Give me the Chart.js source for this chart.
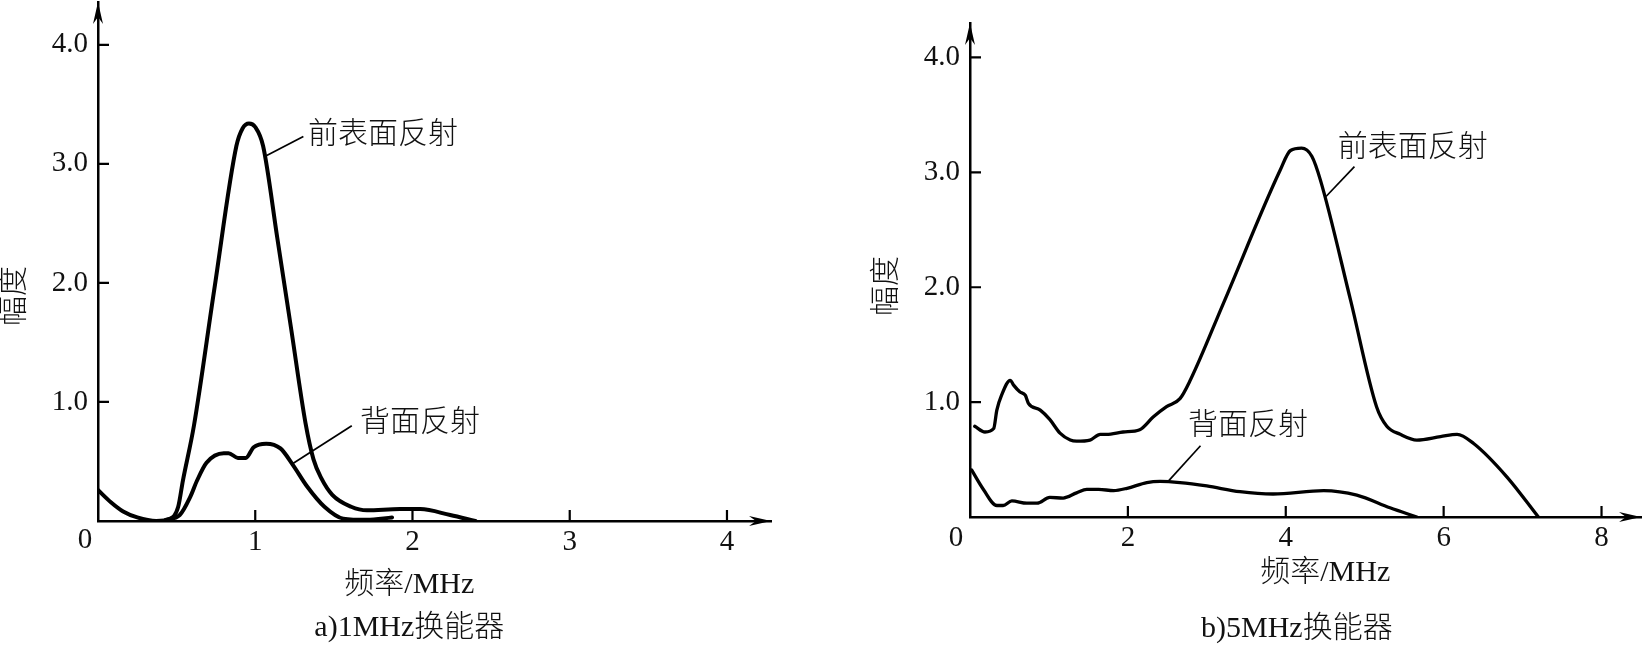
<!DOCTYPE html>
<html>
<head>
<meta charset="utf-8">
<script src="https://cdn.jsdelivr.net/npm/chart.js@4.4.1/dist/chart.umd.min.js"></script>
<style>
  html, body { margin: 0; padding: 0; background: #fff; }
  #wrap { position: relative; width: 1646px; height: 646px; overflow: hidden; }
  #wrap canvas { position: absolute; top: 0; }
  #chartA { left: 0; }
  #chartB { left: 823px; }
</style>
</head>
<body>
<div id="wrap">
  <canvas id="chartA" width="823" height="646"></canvas>
  <canvas id="chartB" width="823" height="646"></canvas>
</div>
<script>
/* =========================================================
   DATA
========================================================= */
const yTicks = [1, 2, 3, 4];
const xTicksA = [0, 1, 2, 3, 4];
const xTicksB = [0, 2, 4, 6, 8];
const seriesNames = ["前表面反射", "背面反射"];
const captions = ["a)1MHz换能器", "b)5MHz换能器"];
const xTitle = "频率/MHz";
const yTitle = "幅度";

// a) 1MHz transducer
const freqA_front = [0, 0.08, 0.16, 0.25, 0.37, 0.46, 0.51, 0.54, 0.61, 0.74, 0.88, 0.92, 0.96, 1.00, 1.05, 1.14, 1.23, 1.32, 1.37, 1.42, 1.49, 1.61, 1.71, 1.92, 2.05, 2.24, 2.40];
const ampA_front  = [0.26, 0.16, 0.08, 0.03, 0.00, 0.02, 0.12, 0.34, 0.80, 1.95, 3.15, 3.30, 3.34, 3.31, 3.15, 2.38, 1.60, 0.82, 0.52, 0.36, 0.22, 0.12, 0.09, 0.10, 0.10, 0.05, 0.00];
const freqA_back  = [0.43, 0.52, 0.586, 0.63, 0.69, 0.80, 0.83, 0.89, 0.94, 0.99, 1.07, 1.16, 1.24, 1.33, 1.44, 1.56, 1.71, 1.87];
const ampA_back   = [0.01, 0.05, 0.20, 0.34, 0.49, 0.57, 0.57, 0.53, 0.53, 0.62, 0.65, 0.61, 0.47, 0.29, 0.12, 0.02, 0.01, 0.03];

// b) 5MHz transducer
const freqB_front = [0.06, 0.19, 0.30, 0.34, 0.40, 0.51, 0.55, 0.63, 0.70, 0.74, 0.89, 1.01, 1.14, 1.27, 1.35, 1.52, 1.65, 1.73, 1.94, 2.15, 2.32, 2.49, 2.66, 2.79, 3.21, 3.93, 4.06, 4.20, 4.33, 4.44, 4.82, 5.15, 5.28, 5.45, 5.66, 5.96, 6.17, 6.38, 6.80, 7.20];
const ampB_front  = [0.79, 0.74, 0.77, 0.93, 1.06, 1.19, 1.15, 1.09, 1.06, 0.99, 0.93, 0.85, 0.73, 0.67, 0.66, 0.67, 0.72, 0.72, 0.74, 0.76, 0.87, 0.96, 1.03, 1.19, 1.86, 3.02, 3.19, 3.21, 3.14, 2.93, 1.89, 0.96, 0.79, 0.72, 0.67, 0.70, 0.72, 0.64, 0.35, 0.00];
const freqB_back  = [0.02, 0.17, 0.34, 0.42, 0.53, 0.72, 0.85, 1.01, 1.18, 1.35, 1.48, 1.63, 1.82, 1.99, 2.24, 2.41, 2.66, 3.00, 3.42, 3.84, 4.48, 4.90, 5.32, 5.66];
const ampB_back   = [0.41, 0.24, 0.10, 0.10, 0.14, 0.12, 0.12, 0.17, 0.165, 0.21, 0.24, 0.24, 0.23, 0.25, 0.30, 0.31, 0.30, 0.27, 0.22, 0.20, 0.23, 0.19, 0.08, 0.00];

/* =========================================================
   DEFAULTS
========================================================= */
const FONT = "'Liberation Serif', 'Noto Sans CJK SC', serif";
Chart.defaults.font.family = FONT;
Chart.defaults.color = "#111";

/* =========================================================
   DRAWING HELPERS
========================================================= */
function arrow(ctx, tx, ty, dx, dy) {
  const len = 22, half = 5, notch = 15;
  const nx = -dy, ny = dx;
  ctx.beginPath();
  ctx.moveTo(tx, ty);
  ctx.lineTo(tx - dx * len + nx * half, ty - dy * len + ny * half);
  ctx.lineTo(tx - dx * notch, ty - dy * notch);
  ctx.lineTo(tx - dx * len - nx * half, ty - dy * len - ny * half);
  ctx.closePath();
  ctx.fill();
}

const decor = {
  id: "decor",
  beforeDatasetsDraw(chart, args, o) {
    const { ctx, chartArea: a, scales: { x, y } } = chart;
    ctx.save();
    ctx.strokeStyle = "#000";
    ctx.lineWidth = 2.2;
    ctx.beginPath();
    y.ticks.forEach(t => {
      const p = y.getPixelForValue(t.value);
      ctx.moveTo(a.left, p);
      ctx.lineTo(a.left + 11, p);
    });
    x.ticks.forEach(t => {
      const p = x.getPixelForValue(t.value);
      ctx.moveTo(p, a.bottom);
      ctx.lineTo(p, a.bottom - 11);
    });
    ctx.stroke();
    ctx.fillStyle = "#000";
    arrow(ctx, a.right, a.bottom, 1, 0);
    arrow(ctx, a.left, a.top, 0, -1);
    ctx.restore();
  },
  afterDraw(chart, args, o) {
    const { ctx, chartArea: a, scales: { x, y } } = chart;
    ctx.save();
    ctx.fillStyle = "#111";
    ctx.strokeStyle = "#000";
    ctx.textAlign = "center";
    ctx.textBaseline = "middle";

    // origin label
    ctx.font = `29px ${FONT}`;
    ctx.fillText("0", a.left + o.zeroDx, a.bottom + o.zeroDy);

    // axis titles + caption
    ctx.font = `300 30px ${FONT}`;
    ctx.fillText(xTitle, x.getPixelForValue(o.xTitleAt), a.bottom + o.xTitleDy);
    ctx.fillText(o.caption, x.getPixelForValue(o.captionAt), a.bottom + o.captionDy);

    ctx.save();
    ctx.translate(a.left + o.yTitleDx, y.getPixelForValue(o.yTitleAt));
    ctx.rotate(-Math.PI / 2);
    ctx.fillText(yTitle, 0, 0);
    ctx.restore();

    // curve labels with leader lines
    ctx.lineWidth = 1.7;
    ctx.textAlign = "left";
    o.notes.forEach(n => {
      ctx.beginPath();
      ctx.moveTo(x.getPixelForValue(n.from[0]), y.getPixelForValue(n.from[1]));
      ctx.lineTo(x.getPixelForValue(n.to[0]), y.getPixelForValue(n.to[1]));
      ctx.stroke();
      ctx.fillText(n.text, x.getPixelForValue(n.at[0]), y.getPixelForValue(n.at[1]));
    });
    ctx.restore();
  }
};

/* =========================================================
   CHART BUILDER
========================================================= */
function pts(xs, ys) {
  return xs.map((v, i) => ({ x: v, y: ys[i] }));
}

function buildChart(id, cfg) {
  return new Chart(document.getElementById(id), {
    type: "line",
    data: {
      datasets: [
        { label: seriesNames[0], data: pts(cfg.frontX, cfg.frontY) },
        { label: seriesNames[1], data: pts(cfg.backX, cfg.backY) }
      ]
    },
    plugins: [decor],
    options: {
      responsive: false,
      animation: false,
      events: [],
      layout: { padding: cfg.padding },
      elements: {
        point: { radius: 0 },
        line: {
          borderColor: "#000",
          borderWidth: cfg.lineWidth,
          cubicInterpolationMode: "monotone",
          fill: false,
          borderCapStyle: "round",
          borderJoinStyle: "round"
        }
      },
      plugins: {
        legend: { display: false },
        tooltip: { enabled: false },
        decor: cfg.decor
      },
      scales: {
        x: {
          type: "linear",
          min: 0,
          max: cfg.xMax,
          grid: { display: false, drawTicks: false },
          border: { display: true, color: "#000", width: 2.5 },
          ticks: { padding: 4, autoSkip: false, maxRotation: 0, font: { size: 29 }, callback: v => String(v) },
          afterBuildTicks: s => { s.ticks = cfg.xTicks.filter(v => v !== 0).map(v => ({ value: v })); },
          afterFit: s => { s.height = cfg.xHeight; s.paddingLeft = 0; s.paddingRight = 0; }
        },
        y: {
          type: "linear",
          min: 0,
          max: cfg.yMax,
          grid: { display: false, drawTicks: false },
          border: { display: true, color: "#000", width: 2.5 },
          ticks: { padding: 10, autoSkip: false, font: { size: 29 }, callback: v => Number(v).toFixed(1) },
          afterBuildTicks: s => { s.ticks = yTicks.map(v => ({ value: v })); },
          afterFit: s => { s.width = cfg.yWidth; s.paddingTop = 0; s.paddingBottom = 0; }
        }
      }
    }
  });
}

/* =========================================================
   RENDER
========================================================= */
buildChart("chartA", {
  frontX: freqA_front, frontY: ampA_front,
  backX: freqA_back, backY: ampA_back,
  xTicks: xTicksA, xMax: 4.28, yMax: 4.36,
  yWidth: 98, xHeight: 125,
  padding: { top: 2, right: 52, left: 0, bottom: 0 },
  lineWidth: 4,
  decor: {
    zeroDx: -13, zeroDy: 19,
    xTitleAt: 1.98, xTitleDy: 64,
    captionAt: 1.98, captionDy: 107,
    yTitleDx: -83, yTitleAt: 1.89,
    caption: captions[0],
    notes: [
      { text: seriesNames[0], from: [1.073, 3.07], to: [1.306, 3.23], at: [1.335, 3.24] },
      { text: seriesNames[1], from: [1.242, 0.485], to: [1.614, 0.80], at: [1.667, 0.82] }
    ]
  }
});

buildChart("chartB", {
  frontX: freqB_front, frontY: ampB_front,
  backX: freqB_back, backY: ampB_back,
  xTicks: xTicksB, xMax: 8.5, yMax: 4.3,
  yWidth: 147, xHeight: 129,
  padding: { top: 23, right: 5, left: 0, bottom: 0 },
  lineWidth: 3.3,
  decor: {
    zeroDx: -14, zeroDy: 21,
    xTitleAt: 4.5, xTitleDy: 56,
    captionAt: 4.14, captionDy: 112,
    yTitleDx: -83, yTitleAt: 2.01,
    caption: captions[1],
    notes: [
      { text: seriesNames[0], from: [4.51, 2.79], to: [4.87, 3.05], at: [4.66, 3.21] },
      { text: seriesNames[1], from: [2.51, 0.31], to: [2.92, 0.62], at: [2.76, 0.79] }
    ]
  }
});
</script>
</body>
</html>
